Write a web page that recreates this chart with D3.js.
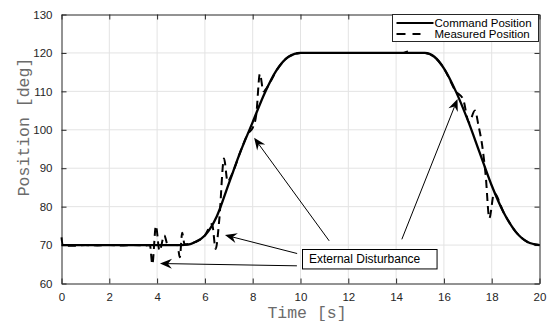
<!DOCTYPE html>
<html>
<head>
<meta charset="utf-8">
<script src="https://cdn.jsdelivr.net/npm/d3@7"></script>
<style>
  body { margin: 0; background: #fff; }
  svg { display: block; }
</style>
</head>
<body>
<div id="chart"></div>
<script>
// command trajectory (s, deg)
const cmdTime = [0, 5, 5.3, 5.6, 6, 6.5, 7, 7.5, 8, 8.5, 9, 9.5, 10, 15.2, 15.6, 16, 16.5, 17, 17.5, 18, 18.5, 19, 19.5, 20];
const cmdPos  = [70, 70, 70.1, 70.8, 72.5, 77.5, 86, 94.5, 102, 109.5, 115.5, 119, 120, 120, 119, 116, 110, 102.5, 94, 85.5, 78.5, 73.5, 70.8, 70];

// measured position, with the disturbance kicks
const measTime = [0, 0.05, 0.5, 1, 1.5, 2, 2.5, 3, 3.5, 3.7, 3.8, 3.95, 4.1, 4.3, 4.45, 4.85, 4.95, 5.05, 5.15, 5.5, 6, 6.3, 6.45, 6.6, 6.8, 6.95, 7.1, 7.5, 7.8, 8, 8.15, 8.3, 8.45, 8.6, 9, 9.5, 10, 14.3, 14.5, 14.7, 15.2, 15.6, 16, 16.5, 16.8, 17.05, 17.3, 17.45, 17.6, 17.75, 17.9, 18.1, 18.5, 19, 19.5, 20];
const measPos  = [72, 70, 69.8, 70, 69.9, 70, 69.9, 70, 69.9, 70, 65, 75, 68.5, 72.5, 70, 70, 66.8, 73.2, 70.2, 70.6, 72.5, 75.5, 69, 76.5, 92.5, 86.5, 88, 94.5, 99, 100.5, 104, 114.5, 110, 111, 115.5, 119, 120, 120, 120.4, 120, 120, 119, 116, 110, 108, 102, 105, 101, 96, 88, 77, 83.5, 78.5, 73.5, 70.8, 70];

const xTicks = [0, 2, 4, 6, 8, 10, 12, 14, 16, 18, 20];
const yTicks = [60, 70, 80, 90, 100, 110, 120, 130];
const seriesNames = ["Command Position", "Measured Position"];

// annotation: one text box, four arrows (data units)
const noteText = "External Disturbance";
const arrowTails = [[9.85, 64.6], [9.86, 67.8], [11.2, 71.1], [14.24, 71.5]];
const arrowTips  = [[4.12, 65.2], [6.84, 72.6], [8.06, 97.9], [16.57, 108]];

const width = 552, height = 325;
const ink = "#262626";

const x = d3.scaleLinear().domain([0, 20]).range([61.5, 539.5]);
const y = d3.scaleLinear().domain([60, 130]).range([283.5, 14.5]);

const svg = d3.select("#chart").append("svg")
  .attr("width", width)
  .attr("height", height);

const [x0, x1] = x.range();
const [y0, y1] = y.range();

// grid
svg.append("g")
  .attr("stroke", "#e3e3e3")
  .attr("stroke-width", 1)
  .selectAll("line")
  .data(xTicks.slice(1, -1))
  .join("line")
  .attr("x1", d => x(d)).attr("x2", d => x(d))
  .attr("y1", y0).attr("y2", y1);

svg.append("g")
  .attr("stroke", "#e3e3e3")
  .attr("stroke-width", 1)
  .selectAll("line")
  .data(yTicks.slice(1, -1))
  .join("line")
  .attr("y1", d => y(d)).attr("y2", d => y(d))
  .attr("x1", x0).attr("x2", x1);

// axes, ticks pointing inwards, box on
const styleAxis = g => {
  g.select(".domain").attr("stroke", ink);
  g.selectAll(".tick line").attr("stroke", ink);
  g.selectAll(".tick text")
    .attr("fill", ink)
    .attr("font-family", "'Liberation Sans', Arial, sans-serif")
    .attr("font-size", 11.5);
};

svg.append("g")
  .attr("transform", `translate(0,${y0})`)
  .call(d3.axisBottom(x).tickValues(xTicks).tickSize(-5).tickPadding(9).tickSizeOuter(0))
  .call(styleAxis);

svg.append("g")
  .attr("transform", `translate(0,${y1})`)
  .call(d3.axisTop(x).tickValues(xTicks).tickSize(-5).tickFormat("").tickSizeOuter(0))
  .call(styleAxis);

svg.append("g")
  .attr("transform", `translate(${x0},0)`)
  .call(d3.axisLeft(y).tickValues(yTicks).tickSize(-5).tickPadding(9).tickSizeOuter(0))
  .call(styleAxis);

svg.append("g")
  .attr("transform", `translate(${x1},0)`)
  .call(d3.axisRight(y).tickValues(yTicks).tickSize(-5).tickFormat("").tickSizeOuter(0))
  .call(styleAxis);

// axis labels
svg.append("text")
  .attr("x", 307)
  .attr("y", 318)
  .attr("text-anchor", "middle")
  .attr("font-family", "'Liberation Mono', 'Courier New', monospace")
  .attr("font-size", 16.5)
  .attr("fill", "#6b6b6b")
  .text("Time [s]");

svg.append("text")
  .attr("transform", "translate(29,127) rotate(-90)")
  .attr("text-anchor", "middle")
  .attr("font-family", "'Liberation Mono', 'Courier New', monospace")
  .attr("font-size", 16.5)
  .attr("fill", "#6b6b6b")
  .text("Position [deg]");

// series
const line = d3.line()
  .x(d => x(d[0]))
  .y(d => y(d[1]))
  .curve(d3.curveMonotoneX);

svg.append("path")
  .datum(d3.zip(cmdTime, cmdPos))
  .attr("fill", "none")
  .attr("stroke", "#000")
  .attr("stroke-width", 2.3)
  .attr("d", line);

svg.append("path")
  .datum(d3.zip(measTime, measPos))
  .attr("fill", "none")
  .attr("stroke", "#000")
  .attr("stroke-width", 2)
  .attr("stroke-dasharray", "8,5")
  .attr("d", line);

// annotation box
const noteX = x(10.08), noteY = y(68.96);
const note = svg.append("g");
note.append("rect")
  .attr("x", Math.round(noteX) + 0.5)
  .attr("y", Math.round(noteY) + 0.5)
  .attr("width", x(15.71) - noteX)
  .attr("height", y(63.9) - noteY)
  .attr("fill", "#fff")
  .attr("stroke", "#000");
note.append("text")
  .attr("x", noteX + 6.5)
  .attr("y", noteY + 14)
  .attr("font-family", "'Liberation Sans', Arial, sans-serif")
  .attr("font-size", 12)
  .attr("fill", "#000")
  .text(noteText);

// arrows
const arrows = svg.append("g");
arrowTails.forEach((t, i) => {
  const ax = x(t[0]), ay = y(t[1]);
  const bx = x(arrowTips[i][0]), by = y(arrowTips[i][1]);
  const ang = Math.atan2(by - ay, bx - ax);
  arrows.append("line")
    .attr("x1", ax).attr("y1", ay)
    .attr("x2", bx - 8 * Math.cos(ang)).attr("y2", by - 8 * Math.sin(ang))
    .attr("stroke", "#000")
    .attr("stroke-width", 1);
  arrows.append("path")
    .attr("d", "M0,0L-12,-5L-8,0L-12,5Z")
    .attr("transform", `translate(${bx},${by}) rotate(${ang * 180 / Math.PI})`)
    .attr("fill", "#000");
});

// legend
const lg = svg.append("g").attr("transform", `translate(${x1 - 147},${y1})`);
lg.append("rect")
  .attr("width", 146)
  .attr("height", 27)
  .attr("fill", "#fff")
  .attr("stroke", ink);

lg.selectAll("line")
  .data(seriesNames)
  .join("line")
  .attr("x1", 4)
  .attr("x2", (d, i) => i ? 28 : 41)
  .attr("y1", (d, i) => 8.5 + i * 11)
  .attr("y2", (d, i) => 8.5 + i * 11)
  .attr("stroke", "#000")
  .attr("stroke-width", 2)
  .attr("stroke-dasharray", (d, i) => i ? "9,7" : null);

lg.selectAll("text")
  .data(seriesNames)
  .join("text")
  .attr("x", 42)
  .attr("y", (d, i) => 12.5 + i * 11)
  .attr("font-family", "'Liberation Sans', Arial, sans-serif")
  .attr("font-size", 11.5)
  .attr("fill", "#000")
  .text(d => d);
</script>
</body>
</html>
